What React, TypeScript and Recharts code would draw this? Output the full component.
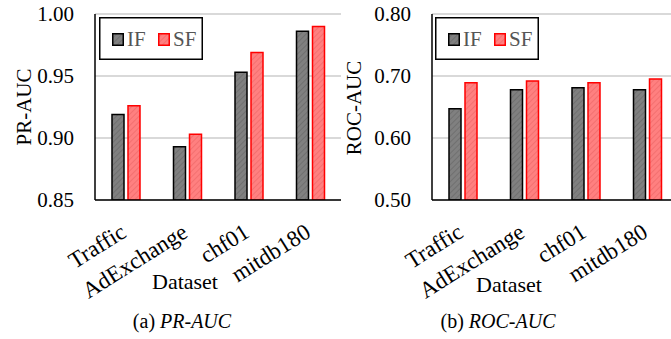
import React from "react";
import { BarChart, Bar, XAxis, YAxis, CartesianGrid } from "recharts";

// values
const categories = ["Traffic", "AdExchange", "chf01", "mitdb180"];
const seriesNames = ["IF", "SF"];
const prIF = [0.919, 0.893, 0.953, 0.986];
const prSF = [0.926, 0.903, 0.969, 0.99];
const rocIF = [0.647, 0.678, 0.681, 0.678];
const rocSF = [0.689, 0.692, 0.689, 0.695];
const prTicks = [0.85, 0.9, 0.95, 1.0];
const rocTicks = [0.5, 0.6, 0.7, 0.8];

const FONT = "Liberation Serif";
const IF_STROKE = "#000000";
const SF_STROKE = "#ff0000";
const GRID = "#cccccc";

function buildRows(a: number[], b: number[]) {
  return categories.map((name, i) => ({ name, IF: a[i], SF: b[i] }));
}

function XTick(props: any) {
  const { x, y, payload } = props;
  return (
    <g transform={`translate(${x + 2},${y + 36}) rotate(-32)`}>
      <text x={0} y={0} textAnchor="end" fontSize={23} fontFamily={FONT} fill="#000">
        {payload.value}
      </text>
    </g>
  );
}

function YTick(props: any) {
  const { x, y, payload } = props;
  return (
    <g transform={`translate(${x},${y + 7})`}>
      <text x={0} y={0} textAnchor="end" fontSize={21} fontFamily={FONT} fill="#000">
        {Number(payload.value).toFixed(2)}
      </text>
    </g>
  );
}

function Legend({ left, top }: { left: number; top: number }) {
  const fills = ["url(#hatchIF)", "url(#hatchSF)"];
  const strokes = [IF_STROKE, SF_STROKE];
  const offsets = [13, 59];
  return (
    <svg width={104} height={43} style={{ position: "absolute", left, top }} fontFamily={FONT}>
      <rect x={0.75} y={0.75} width={102.5} height={41.5} fill="#fff" stroke="#000" strokeWidth={1.5} />
      {seriesNames.map((s, i) => (
        <g key={s}>
          <rect
            x={offsets[i] + 0.75}
            y={16.75}
            width={10.5}
            height={11.5}
            fill={fills[i]}
            stroke={strokes[i]}
            strokeWidth={1.5}
          />
          <text x={offsets[i] + 15} y={29} fontSize={21} fill="#555">
            {s}
          </text>
        </g>
      ))}
    </svg>
  );
}

function Panel({
  left,
  rows,
  ticks,
}: {
  left: number;
  rows: { name: string; IF: number; SF: number }[];
  ticks: number[];
}) {
  const domain = [ticks[0], ticks[ticks.length - 1]];
  const border = { stroke: "#000", strokeWidth: 1.5 };
  return (
    <div style={{ position: "absolute", left, top: 0 }}>
      <BarChart
        width={360}
        height={339}
        data={rows}
        margin={{ top: 14, right: 19, bottom: 39, left: 35 }}
        barSize={12}
        barGap={4}
      >
        <CartesianGrid vertical={false} stroke={GRID} strokeWidth={1.5} />
        <XAxis
          dataKey="name"
          height={100}
          interval={0}
          tickLine={false}
          tickSize={0}
          tickMargin={0}
          axisLine={border}
          tick={XTick}
        />
        <XAxis xAxisId="top" dataKey="name" orientation="top" height={0} tick={false} tickLine={false} axisLine={border} />
        <YAxis
          domain={domain}
          ticks={ticks}
          allowDataOverflow
          width={60}
          tickSize={0}
          tickMargin={21}
          tickLine={false}
          axisLine={border}
          tick={YTick}
        />
        <YAxis yAxisId="right" orientation="right" width={0} domain={domain} tick={false} tickLine={false} axisLine={border} />
        <Bar dataKey="IF" fill="url(#hatchIF)" stroke={IF_STROKE} strokeWidth={1.5} isAnimationActive={false} />
        <Bar dataKey="SF" fill="url(#hatchSF)" stroke={SF_STROKE} strokeWidth={1.5} isAnimationActive={false} />
      </BarChart>
    </div>
  );
}

export default function App() {
  return (
    <div
      style={{
        position: "absolute",
        left: 0,
        top: 0,
        width: 671,
        height: 339,
        overflow: "hidden",
        background: "#fff",
      }}
    >
      <svg width={0} height={0} style={{ position: "absolute" }}>
        <defs>
          <pattern id="hatchIF" patternUnits="userSpaceOnUse" width={4} height={4} patternTransform="rotate(45)">
            <rect width={4} height={4} fill="#808080" />
            <line x1={0} y1={0} x2={0} y2={4} stroke="#6b6b6b" strokeWidth={1.5} />
          </pattern>
          <pattern id="hatchSF" patternUnits="userSpaceOnUse" width={4} height={4} patternTransform="rotate(45)">
            <rect width={4} height={4} fill="#ff8080" />
            <line x1={0} y1={0} x2={0} y2={4} stroke="#f06a6a" strokeWidth={1.5} />
          </pattern>
        </defs>
      </svg>

      <Panel left={0} rows={buildRows(prIF, prSF)} ticks={prTicks} />
      <Panel left={337} rows={buildRows(rocIF, rocSF)} ticks={rocTicks} />

      <Legend left={99} top={17} />
      <Legend left={435} top={17} />

      <svg width={671} height={339} style={{ position: "absolute", left: 0, top: 0, pointerEvents: "none" }} fontFamily={FONT}>
        <text x={31} y={107} transform="rotate(-90 31 107)" textAnchor="middle" fontSize={21} fill="#000">PR-AUC</text>
        <text x={361} y={108} transform="rotate(-90 361 108)" textAnchor="middle" fontSize={21} fill="#000">ROC-AUC</text>
        <text x={185} y={289} textAnchor="middle" fontSize={22} fill="#000">Dataset</text>
        <text x={509} y={292} textAnchor="middle" fontSize={22} fill="#000">Dataset</text>
        <text x={182} y={328} textAnchor="middle" fontSize={20} fill="#000">
          (a) <tspan fontStyle="italic">PR-AUC</tspan>
        </text>
        <text x={498} y={328} textAnchor="middle" fontSize={20} fill="#000">
          (b) <tspan fontStyle="italic">ROC-AUC</tspan>
        </text>
      </svg>
    </div>
  );
}
